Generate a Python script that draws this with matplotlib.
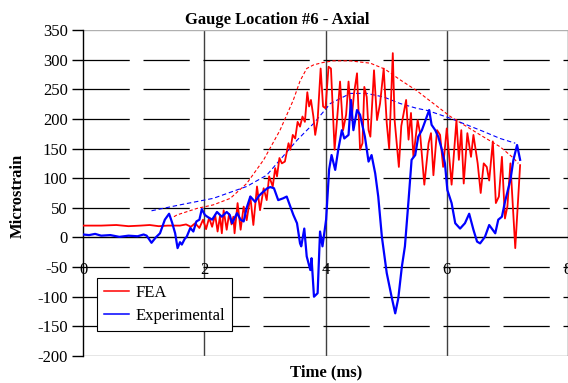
import numpy as np
import matplotlib
matplotlib.use("Agg")
import matplotlib.pyplot as plt

plt.rcParams['font.family'] = ['Liberation Serif', 'DejaVu Serif']
plt.rcParams['axes.unicode_minus'] = False

# FEA strain trace (time in ms, microstrain)
fea_t = [0.00, 0.30, 0.55, 0.75, 0.95, 1.10, 1.25, 1.40, 1.60, 1.70, 1.78, 1.85, 1.92, 1.98,
         2.03, 2.08, 2.13, 2.18, 2.22, 2.26, 2.29, 2.32, 2.37, 2.41, 2.45, 2.48, 2.50, 2.55,
         2.60, 2.65, 2.70, 2.76, 2.81, 2.87, 2.92, 2.98, 3.03, 3.07, 3.13, 3.17, 3.20, 3.24,
         3.28, 3.33, 3.39, 3.42, 3.46, 3.50, 3.54, 3.58, 3.62, 3.66, 3.70, 3.73, 3.76, 3.80,
         3.83, 3.87, 3.92, 3.96, 4.00, 4.05, 4.09, 4.15, 4.19, 4.24, 4.29, 4.34, 4.38, 4.43,
         4.47, 4.52, 4.57, 4.61, 4.64, 4.68, 4.71, 4.74, 4.80, 4.85, 4.90, 4.96, 5.01, 5.05,
         5.11, 5.14, 5.21, 5.25, 5.33, 5.37, 5.41, 5.45, 5.52, 5.56, 5.63, 5.70, 5.74, 5.78,
         5.84, 5.89, 5.94, 6.00, 6.05, 6.08, 6.16, 6.20, 6.24, 6.28, 6.34, 6.40, 6.44, 6.51,
         6.56, 6.61, 6.66, 6.70, 6.76, 6.81, 6.86, 6.91, 6.96, 7.00, 7.05, 7.13, 7.21]
fea_v = [20, 20, 21, 19, 20, 21, 19, 20, 20, 22, 18, 24, 16, 30,
         14, 33, 18, 38, 10, 36, 7, 46, 13, 40, 22, 35, 7, 58,
         13, 52, 29, 69, 21, 86, 46, 83, 63, 103, 86, 117, 103, 134,
         125, 128, 159, 148, 173, 167, 195, 187, 204, 195, 245, 221, 232, 204,
         173, 198, 285, 221, 218, 288, 285, 148, 198, 263, 181, 207, 263, 198,
         243, 277, 148, 159, 254, 237, 181, 170, 282, 198, 226, 285, 193, 150,
         311, 198, 119, 188, 232, 165, 210, 136, 198, 176, 89, 159, 176, 105,
         181, 173, 119, 184, 125, 89, 198, 131, 181, 91, 176, 136, 173, 125,
         75, 125, 119, 96, 162, 58, 69, 136, 32, 52, 125, -18, 122]

# Experimental strain trace
exp_t = [0.00, 0.10, 0.20, 0.30, 0.45, 0.60, 0.75, 0.90, 1.00, 1.05, 1.13, 1.20, 1.27, 1.35,
         1.42, 1.47, 1.52, 1.56, 1.60, 1.63, 1.68, 1.71, 1.77, 1.82, 1.87, 1.92, 1.96, 2.01,
         2.05, 2.13, 2.21, 2.29, 2.37, 2.42, 2.46, 2.54, 2.60, 2.65, 2.70, 2.76, 2.84, 2.90,
         2.95, 3.04, 3.09, 3.15, 3.22, 3.30, 3.36, 3.42, 3.47, 3.53, 3.58, 3.60, 3.65, 3.69,
         3.75, 3.77, 3.81, 3.87, 3.91, 3.95, 4.01, 4.06, 4.10, 4.16, 4.21, 4.27, 4.31, 4.38,
         4.42, 4.46, 4.52, 4.57, 4.65, 4.71, 4.76, 4.82, 4.87, 4.93, 5.01, 5.09, 5.15, 5.20,
         5.26, 5.31, 5.37, 5.42, 5.48, 5.53, 5.59, 5.64, 5.71, 5.75, 5.81, 5.86, 5.92, 5.97,
         6.01, 6.08, 6.14, 6.22, 6.30, 6.37, 6.44, 6.50, 6.55, 6.63, 6.70, 6.80, 6.85, 6.91,
         6.96, 7.05, 7.10, 7.16, 7.21]
exp_v = [5, 4, 6, 3, 4, 1, 3, 2, 5, 3, -9, 0, 7, 30,
         40, 25, 7, -18, -8, -12, -2, 1, 16, 10, 27, 30, 48, 38,
         35, 30, 43, 35, 43, 38, 24, 41, 30, 27, 50, 69, 60, 70,
         75, 83, 85, 83, 63, 66, 69, 52, 38, 24, -10, -15, 15, -32,
         -55, -35, -100, -94, 10, -15, 30, 115, 139, 114, 148, 181, 167, 173,
         232, 181, 215, 207, 170, 128, 139, 108, 69, 1, -60, -100, -128, -103,
         -49, -15, 63, 131, 139, 170, 181, 195, 215, 190, 181, 170, 148, 125,
         80, 58, 24, 15, 24, 40, 13, -7, -10, 1, 21, 7, 30, 35,
         60, 97, 131, 156, 131]

# envelope (dashed) curves
fea_env_t = [1.50, 1.55, 1.88, 2.15, 2.43, 2.70, 2.98, 3.25, 3.47, 3.58, 3.69, 3.80, 3.95,
             4.13, 4.40, 4.74, 4.98, 5.23, 5.50, 5.78, 6.06, 6.33, 6.60, 6.88, 7.10, 7.18]
fea_env_v = [35, 38, 49, 55, 66, 91, 131, 181, 232, 264, 285, 291, 295,
             298, 298, 294, 284, 266, 248, 226, 204, 187, 170, 153, 134, 125]
exp_env_t = [1.13, 1.60, 2.15, 2.70, 3.03, 3.25, 3.53, 3.81, 4.08, 4.41, 4.68, 4.96, 5.23,
             5.50, 5.69, 6.06, 6.33, 6.60, 6.88, 7.13]
exp_env_v = [45, 55, 66, 86, 105, 131, 164, 193, 226, 243, 243, 237, 226,
             218, 214, 201, 190, 179, 167, 159]

xticks = [0, 2, 4, 6, 8]
yticks = list(range(-200, 351, 50))

fig = plt.figure(figsize=(5.68, 3.83), dpi=100)
ax = fig.add_axes([83 / 568, 27 / 383, 485 / 568, 326 / 383])

ax.set_xlim(0, 8)
ax.set_ylim(-200, 350)

# gridlines: solid vertical, long-dash horizontal
for t in xticks[1:]:
    ax.axvline(t, color='#404040', lw=1.0, zorder=1)
for v in yticks:
    if v in (0, -200, 350):
        continue
    ax.axhline(v, color='black', lw=0.9, dashes=(37, 11), zorder=1)
ax.axhline(-200, color='#808080', lw=1.0, zorder=1)
ax.axhline(350, color='#b0b0b0', lw=1.0, zorder=1)

ax.plot(fea_env_t, fea_env_v, color='red', lw=0.8, dashes=(3, 2), zorder=3)
ax.plot(exp_env_t, exp_env_v, color='blue', lw=0.8, dashes=(4, 2.5), zorder=3)
ax.plot(fea_t, fea_v, color='red', lw=1.3, label='FEA', zorder=4)
ax.plot(exp_t, exp_v, color='blue', lw=1.6, label='Experimental', zorder=5)

for s in ['top', 'right']:
    ax.spines[s].set_visible(False)
ax.spines['left'].set_linewidth(1.0)
ax.spines['bottom'].set_position(('data', 0))
ax.spines['bottom'].set_linewidth(1.0)

ax.set_xticks(xticks)
ax.set_yticks(yticks)
ax.tick_params(axis='x', length=0, pad=18, labelsize=12)
ax.tick_params(axis='y', direction='out', length=8, width=1.0, pad=3, labelsize=12)

leg = ax.legend(loc='lower left', bbox_to_anchor=(0.029, 0.077), borderaxespad=0,
                fontsize=12, frameon=True, fancybox=False, framealpha=1,
                edgecolor='black', handlelength=1.5, handletextpad=0.4,
                labelspacing=0.45, borderpad=0.4)
leg.get_frame().set_linewidth(0.8)
for h in leg.get_lines():
    h.set_linewidth(1.1)

fig.text(277 / 568, 1 - 20 / 383, 'Gauge Location #6 - Axial', ha='center', va='center',
         fontsize=12, fontweight='bold')
fig.text(326 / 568, 1 - 372 / 383, 'Time (ms)', ha='center', va='center',
         fontsize=12, fontweight='bold')
fig.text(18 / 568, 1 - 196 / 383, 'Microstrain', ha='center', va='center',
         rotation=90, fontsize=12, fontweight='bold')

fig.savefig('out.png', dpi=100)
